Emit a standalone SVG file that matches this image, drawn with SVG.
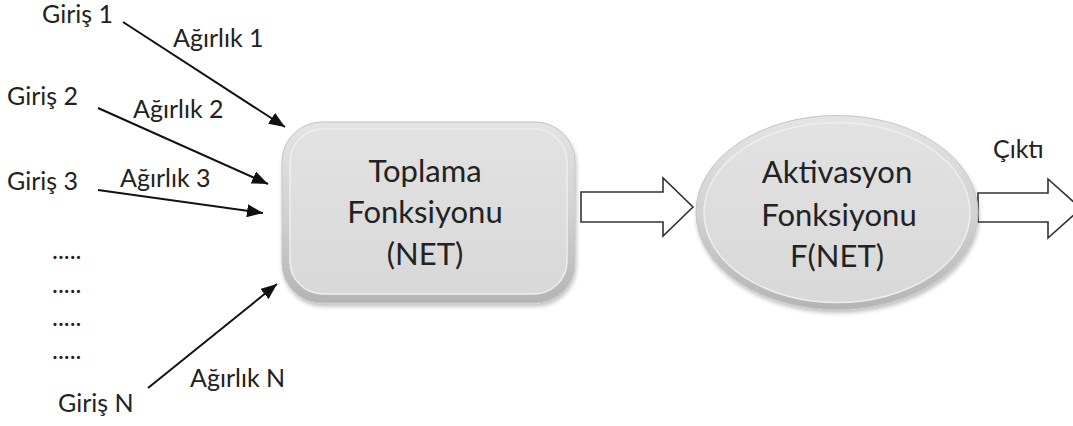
<svg xmlns="http://www.w3.org/2000/svg" width="1073" height="426" viewBox="0 0 1073 426">
  <style>
    .lbl { font-family: Lato, "Open Sans", "Liberation Sans", sans-serif; font-size: 25px; fill: #222; }
    .big { font-family: Lato, "Open Sans", "Liberation Sans", sans-serif; font-size: 31px; fill: #222; text-anchor: middle; }
    .wire { stroke: #111; stroke-width: 2; fill: none; }
    .hollow { fill: #fff; stroke: #333; stroke-width: 1.6; stroke-linejoin: miter; }
  </style>
  <defs>
    <marker id="ah" markerUnits="userSpaceOnUse" markerWidth="17" markerHeight="13" refX="16" refY="6.5" orient="auto">
      <path d="M0,0 L16,6.5 L0,13 Z" fill="#111"/>
    </marker>
    <linearGradient id="rimGrad" x1="0" y1="0" x2="0" y2="1">
      <stop offset="0" stop-color="#e4e4e4"/>
      <stop offset="0.5" stop-color="#d2d2d2"/>
      <stop offset="1" stop-color="#b4b4b4"/>
    </linearGradient>
    <linearGradient id="faceGrad" x1="0" y1="0" x2="0" y2="1">
      <stop offset="0" stop-color="#e2e2e2"/>
      <stop offset="1" stop-color="#d8d8d8"/>
    </linearGradient>
    <filter id="shadow" x="-10%" y="-10%" width="120%" height="125%">
      <feGaussianBlur in="SourceAlpha" stdDeviation="2"/>
      <feOffset dx="1" dy="3" result="b"/>
      <feComponentTransfer><feFuncA type="linear" slope="0.25"/></feComponentTransfer>
      <feMerge><feMergeNode/><feMergeNode in="SourceGraphic"/></feMerge>
    </filter>
  </defs>

  <g id="connectors">
    <line class="wire" x1="123" y1="22" x2="285" y2="127" marker-end="url(#ah)"/>
    <line class="wire" x1="98" y1="108" x2="268" y2="184" marker-end="url(#ah)"/>
    <line class="wire" x1="98" y1="190" x2="263" y2="213" marker-end="url(#ah)"/>
    <line class="wire" x1="148" y1="388" x2="277" y2="284" marker-end="url(#ah)"/>
    <path class="hollow" d="M581,192 L663,192 L663,178 L693,207 L663,236 L663,222 L581,222 Z"/>
    <path class="hollow" d="M978,193 L1048,193 L1048,179 L1081,208.5 L1048,238 L1048,222 L978,222 Z"/>
  </g>

  <g id="inputs">
    <text class="lbl" x="42" y="23">Giriş 1</text>
    <text class="lbl" x="7" y="105">Giriş 2</text>
    <text class="lbl" x="7" y="190">Giriş 3</text>
    <text class="lbl" x="52" y="259">.....</text>
    <text class="lbl" x="52" y="293">.....</text>
    <text class="lbl" x="52" y="326">.....</text>
    <text class="lbl" x="52" y="359">.....</text>
    <text class="lbl" x="58" y="412">Giriş N</text>
  </g>

  <g id="weights">
    <text class="lbl" x="173" y="47">Ağırlık 1</text>
    <text class="lbl" x="133" y="118">Ağırlık 2</text>
    <text class="lbl" x="120" y="187">Ağırlık 3</text>
    <text class="lbl" x="190" y="387">Ağırlık N</text>
  </g>

  <g id="toplama">
    <rect x="282" y="122" width="293" height="181" rx="40" ry="40" fill="url(#rimGrad)" stroke="#c4c4c4" stroke-width="1" filter="url(#shadow)"/>
    <rect x="290" y="129" width="277" height="165" rx="33" ry="33" fill="url(#faceGrad)" stroke="#eeeeee" stroke-width="1.5"/>
    <text class="big" x="425" y="182">Toplama</text>
    <text class="big" x="425" y="223">Fonksiyonu</text>
    <text class="big" x="425" y="265">(NET)</text>
  </g>

  <g id="aktivasyon">
    <ellipse cx="837" cy="212.5" rx="141" ry="97" fill="url(#rimGrad)" stroke="#c4c4c4" stroke-width="1" filter="url(#shadow)"/>
    <ellipse cx="837" cy="212.5" rx="133" ry="90" fill="url(#faceGrad)" stroke="#eeeeee" stroke-width="1.5"/>
    <text class="big" x="837" y="183">Aktivasyon</text>
    <text class="big" x="839" y="226">Fonksiyonu</text>
    <text class="big" x="837" y="267">F(NET)</text>
  </g>

  <g id="cikti">
    <text class="lbl" x="993" y="158">Çıktı</text>
  </g>
</svg>
